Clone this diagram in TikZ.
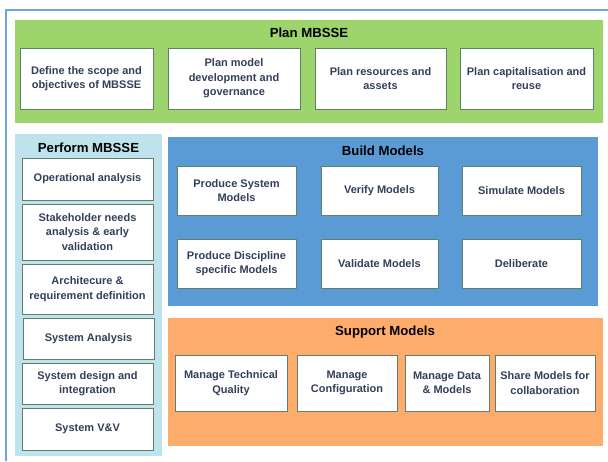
\documentclass[tikz,border=0pt]{standalone}
\usepackage{fontspec}
\setmainfont{Liberation Sans}
\definecolor{frameblue}{HTML}{6FA3DC}
\definecolor{plangreen}{HTML}{9DD46C}
\definecolor{perfblue}{HTML}{BEE3EC}
\definecolor{buildblue}{HTML}{5B9BD5}
\definecolor{suporange}{HTML}{FDAC6C}
\definecolor{boxline}{HTML}{5E806E}
\definecolor{boxtext}{HTML}{33405A}
\begin{document}
\begin{tikzpicture}[x=1pt,y=-1pt,
  ibox/.style={draw=boxline,line width=0.9pt,fill=white,inner sep=1pt,align=center,
    font=\fontsize{11}{14.5}\selectfont\bfseries,text=boxtext},
  ttl/.style={font=\fontsize{13.2}{15}\selectfont\bfseries,text=black}]
\useasboundingbox (0,0) rectangle (608,461);
\fill[white] (0,0) rectangle (608,461);
% outer frame
\draw[frameblue,line width=1.5pt] (6,461) -- (6,10) -- (608,10);
% containers
\fill[plangreen] (15,20) rectangle (603,123);
\fill[perfblue] (15,134) rectangle (162,456);
\fill[buildblue] (168,137) rectangle (598,306);
\fill[suporange] (168,318) rectangle (603,446);
% titles
\node[ttl] (tplan) at (309,33) {Plan MBSSE};
\node[ttl] (tperf) at (88.5,148) {Perform MBSSE};
\node[ttl] (tbuild) at (383,151) {Build Models};
\node[ttl] (tsup) at (385,332) {Support Models};
% plan boxes
\node[ibox,minimum width=133pt,minimum height=61pt] (p1) at (86.5,78.5) {Define the scope and\\objectives of MBSSE};
\node[ibox,minimum width=132pt,minimum height=61pt] (p2) at (234,78.5) {Plan model\\development and\\governance};
\node[ibox,minimum width=131pt,minimum height=61pt] (p3) at (380.5,78.5) {Plan resources and\\assets};
\node[ibox,minimum width=133pt,minimum height=61pt] (p4) at (526.5,78.5) {Plan capitalisation and\\reuse};
% perform boxes
\node[ibox,minimum width=131pt,minimum height=42pt] (f1) at (87.5,179) {Operational analysis};
\node[ibox,minimum width=131pt,minimum height=56pt] (f2) at (87.5,232) {Stakeholder needs\\analysis \& early\\validation};
\node[ibox,minimum width=131pt,minimum height=50pt] (f3) at (87.5,289) {Architecure \&\\requirement definition};
\node[ibox,minimum width=131pt,minimum height=41pt] (f4) at (88.5,338.5) {System Analysis};
\node[ibox,minimum width=131pt,minimum height=41pt] (f5) at (87.5,383.5) {System design and\\integration};
\node[ibox,minimum width=131pt,minimum height=42pt] (f6) at (87.5,429) {System V\&V};
% build boxes
\node[ibox,minimum width=119pt,minimum height=49pt] (b1) at (236.5,190.5) {Produce System\\Models};
\node[ibox,minimum width=117pt,minimum height=49pt] (b2) at (379.5,190.5) {Verify Models};
\node[ibox,minimum width=119pt,minimum height=49pt] (b3) at (521.5,190.5) {Simulate Models};
\node[ibox,minimum width=119pt,minimum height=49pt] (b4) at (236.5,263.5) {Produce Discipline\\specific Models};
\node[ibox,minimum width=117pt,minimum height=49pt] (b5) at (379.5,263.5) {Validate Models};
\node[ibox,minimum width=119pt,minimum height=49pt] (b6) at (521.5,263.5) {Deliberate};
% support boxes
\node[ibox,minimum width=112pt,minimum height=56pt] (s1) at (231,383) {Manage Technical\\Quality};
\node[ibox,minimum width=100pt,minimum height=56pt] (s2) at (347,383) {Manage\\Configuration};
\node[ibox,minimum width=84pt,minimum height=56pt] (s3) at (447,383) {Manage Data\\\& Models};
\node[ibox,minimum width=100pt,minimum height=56pt] (s4) at (545,383) {Share Models for\\collaboration};
\end{tikzpicture}
\end{document}
